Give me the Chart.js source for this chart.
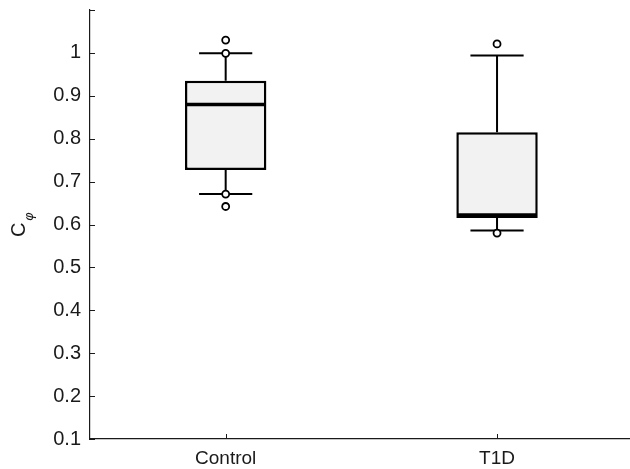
<!DOCTYPE html>
<html>
<head>
<meta charset="utf-8">
<script src="https://cdn.jsdelivr.net/npm/chart.js@4.4.1/dist/chart.umd.min.js"></script>
<style>
  html, body { margin: 0; padding: 0; background: #fff; overflow: hidden; }
  #box { display: block; }
</style>
</head>
<body>
<canvas id="box" width="630" height="469"></canvas>
<script>
  // box plot summary per group
  const groups = ["Control", "T1D"];
  const positions = [1, 2];
  const q1 = [0.727, 0.615];
  const medians = [0.880, 0.622];
  const q3 = [0.935, 0.815];
  const whiskerLow = [0.671, 0.586];
  const whiskerHigh = [0.999, 0.994];
  const outliers = [
    { x: 1, y: 1.030 },
    { x: 1, y: 0.999 },
    { x: 1, y: 0.671 },
    { x: 1, y: 0.642 },
    { x: 2, y: 1.021 },
    { x: 2, y: 0.580 }
  ];
  const yTicks = [0.1, 0.2, 0.3, 0.4, 0.5, 0.6, 0.7, 0.8, 0.9, 1, 1.1];

  const INK = "#1a1a1a";
  const FONT = "'Liberation Sans', Arial, sans-serif";

  // whiskers + caps behind the boxes, medians on top, inward ticks, y title
  const boxExtras = {
    id: "boxExtras",
    beforeDatasetsDraw(chart) {
      const { ctx, scales: { x, y } } = chart;
      const unit = x.getPixelForValue(2) - x.getPixelForValue(1);
      ctx.save();
      ctx.strokeStyle = "#000";
      ctx.lineWidth = 2;
      positions.forEach((p, i) => {
        const cx = x.getPixelForValue(p);
        const half = unit * 0.098;
        ctx.beginPath();
        ctx.moveTo(cx, y.getPixelForValue(q3[i]));
        ctx.lineTo(cx, y.getPixelForValue(whiskerHigh[i]));
        ctx.moveTo(cx, y.getPixelForValue(q1[i]));
        ctx.lineTo(cx, y.getPixelForValue(whiskerLow[i]));
        ctx.moveTo(cx - half, y.getPixelForValue(whiskerHigh[i]));
        ctx.lineTo(cx + half, y.getPixelForValue(whiskerHigh[i]));
        ctx.moveTo(cx - half, y.getPixelForValue(whiskerLow[i]));
        ctx.lineTo(cx + half, y.getPixelForValue(whiskerLow[i]));
        ctx.stroke();
      });
      ctx.restore();
    },
    afterDatasetsDraw(chart) {
      const { ctx, chartArea, scales: { x, y } } = chart;
      const unit = x.getPixelForValue(2) - x.getPixelForValue(1);
      ctx.save();
      // medians
      ctx.strokeStyle = "#000";
      ctx.lineWidth = 3.5;
      positions.forEach((p, i) => {
        const cx = x.getPixelForValue(p);
        const half = unit * 0.15 - 1.5;
        const py = y.getPixelForValue(medians[i]);
        ctx.beginPath();
        ctx.moveTo(cx - half, py);
        ctx.lineTo(cx + half, py);
        ctx.stroke();
      });
      // inward tick marks
      ctx.strokeStyle = INK;
      ctx.lineWidth = 1;
      ctx.beginPath();
      yTicks.forEach(v => {
        const py = Math.round(y.getPixelForValue(v)) + 0.5;
        ctx.moveTo(chartArea.left, py);
        ctx.lineTo(chartArea.left + 5, py);
      });
      positions.forEach(p => {
        const px = Math.round(x.getPixelForValue(p)) + 0.5;
        ctx.moveTo(px, chartArea.bottom);
        ctx.lineTo(px, chartArea.bottom - 5);
      });
      ctx.stroke();
      // y axis title: C with subscript phi
      ctx.fillStyle = INK;
      ctx.translate(25, 237);
      ctx.rotate(-Math.PI / 2);
      ctx.textBaseline = "alphabetic";
      ctx.textAlign = "left";
      ctx.font = "20px " + FONT;
      ctx.fillText("C", 0, 0);
      ctx.font = "italic 13px 'DejaVu Sans', " + FONT;
      ctx.fillText("\u03C6", 16, 8);
      ctx.restore();
    }
  };

  new Chart(document.getElementById("box"), {
    type: "bar",
    data: {
      datasets: [
        {
          label: "box",
          data: positions.map((p, i) => ({ x: p, y: [q1[i], q3[i]] })),
          backgroundColor: "#f2f2f2",
          borderColor: "#000",
          borderWidth: 2.5,
          borderSkipped: false,
          categoryPercentage: 1,
          barPercentage: 0.3,
          order: 2
        },
        {
          type: "line",
          label: "outliers",
          data: outliers,
          showLine: false,
          pointRadius: 3.5,
          pointBorderWidth: 1.8,
          pointBackgroundColor: "#fff",
          pointBorderColor: "#000",
          order: 1
        }
      ]
    },
    options: {
      responsive: false,
      animation: false,
      events: [],
      layout: { autoPadding: false, padding: { top: 10, left: 0, right: 0, bottom: 0 } },
      plugins: { legend: { display: false }, tooltip: { enabled: false } },
      scales: {
        x: {
          type: "linear",
          offset: false,
          min: 0.5,
          max: 2.49,
          afterBuildTicks(scale) { scale.ticks = positions.map(v => ({ value: v })); },
          grid: { display: false, drawTicks: false },
          border: { display: true, color: INK, width: 1.2 },
          ticks: {
            color: INK,
            font: { family: FONT, size: 19 },
            padding: 8,
            maxRotation: 0,
            callback: v => groups[positions.indexOf(v)]
          },
          afterFit(scale) {
            scale.height = 30;
            scale.paddingLeft = 0;
            scale.paddingRight = 0;
          }
        },
        y: {
          type: "linear",
          min: 0.1,
          max: 1.1,
          afterBuildTicks(scale) { scale.ticks = yTicks.map(v => ({ value: v })); },
          grid: { display: false, drawTicks: false },
          border: { display: true, color: INK, width: 1.2 },
          ticks: {
            color: INK,
            font: { family: FONT, size: 20 },
            padding: 9,
            callback: v => (v > 1.05 ? "" : String(Math.round(v * 10) / 10))
          },
          afterFit(scale) {
            scale.width = 90;
            scale.paddingTop = 0;
            scale.paddingBottom = 0;
          }
        }
      }
    },
    plugins: [boxExtras]
  });
</script>
</body>
</html>
